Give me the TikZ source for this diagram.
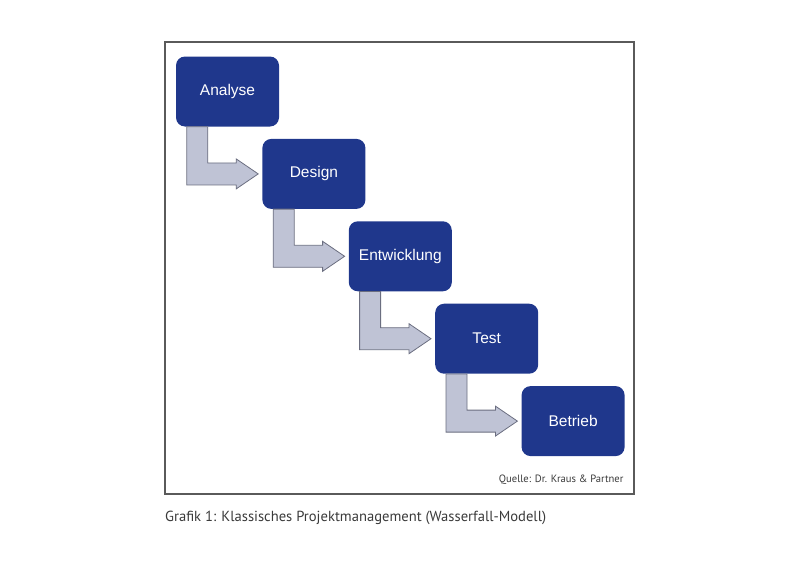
\documentclass[tikz,border=0pt]{standalone}
\usepackage{fontspec}
\setmainfont{Liberation Sans}
\newfontfamily\capfont{PT Sans}
\usetikzlibrary{calc,positioning}

\definecolor{phaseblue}{HTML}{1F378C}
\definecolor{arrowfill}{HTML}{BFC3D5}
\definecolor{arrowline}{HTML}{6B6E80}
\definecolor{framegray}{HTML}{5A5A5A}
\definecolor{captiongray}{HTML}{3A3A3A}

% bent block arrow from one phase to the next
\newcommand{\stufe}[2]{%
  \path ($(#1.south west)+(11,0)$) coordinate (p) ($(#2.west)+(-4,0)$) coordinate (t);
  \draw[pfeil] (p) -- ++(21,0) -- ($(p |- t)+(21,-11)$) -- ($(t)+(-22,-11)$)
    -- ($(t)+(-22,-15)$) -- (t) -- ($(t)+(-22,15)$) -- ($(t)+(-22,11)$)
    -- ($(p |- t)+(0,11)$) -- cycle;}

\begin{document}
\begin{tikzpicture}[x=1pt,y=-1pt,
  phase/.style={rectangle, rounded corners=9pt, fill=phaseblue, text=white,
    minimum width=103pt, minimum height=70pt, inner sep=0pt,
    font=\fontsize{15.5}{18}\selectfont},
  pfeil/.style={fill=arrowfill, draw=arrowline, line width=0.8pt, line join=miter},
  next/.style={below right=12pt and -17pt of #1}]

\useasboundingbox (0,0) rectangle (800,581);

% frame
\draw[framegray, line width=1.3pt] (165,42) rectangle (634,494);

\node[phase] (A) at (227.5,91.5) {Analyse};
\node[phase, next=A] (B) {Design};
\node[phase, next=B] (C) {Entwicklung};
\node[phase, next=C] (D) {Test};
\node[phase, next=D] (E) {Betrieb};

\stufe{A}{B}
\stufe{B}{C}
\stufe{C}{D}
\stufe{D}{E}

\node[anchor=east, text=captiongray, font=\capfont\fontsize{10.6}{12}\selectfont] (quelle) at (627,480) {Quelle: Dr. Kraus \& Partner};
\node[anchor=west, inner sep=0pt, text=captiongray, font=\capfont\fontsize{14.6}{17}\selectfont] (caption) at (165,518) {Grafik 1: Klassisches Projektmanagement (Wasserfall-Modell)};

\end{tikzpicture}
\end{document}
